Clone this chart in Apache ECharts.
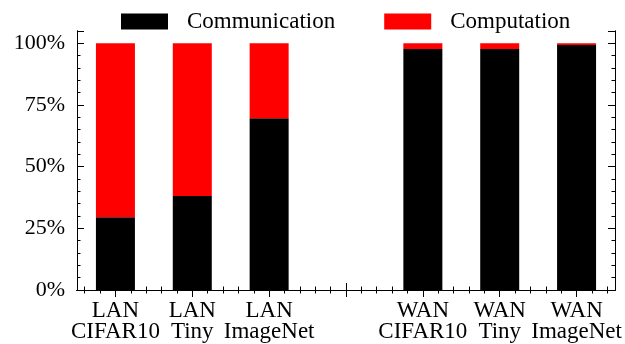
<!DOCTYPE html>
<html>
<head>
<meta charset="utf-8">
<script src="https://cdn.jsdelivr.net/npm/echarts@6/dist/echarts.min.js"></script>
<style>html,body{margin:0;padding:0;background:#fff}#c{width:625px;height:344px}</style>
</head>
<body>
<div id="c"></div>
<script>
const categories = ['LAN\nCIFAR10', 'LAN\nTiny', 'LAN\nImageNet', '', 'WAN\nCIFAR10', 'WAN\nTiny', 'WAN\nImageNet'];
const communication = [29.5, 38.1, 69.6, '-', 97.7, 97.7, 99.3];
const computation = [70.5, 61.9, 30.4, '-', 2.3, 2.3, 0.7];
const yTicks = [0, 25, 50, 75, 100];
const minorSlots = new Array(35).fill('');

const FONT = 'Liberation Serif';
const line = { show: true, lineStyle: { color: '#000', width: 1 } };

const chart = echarts.init(document.getElementById('c'), null, { renderer: 'canvas' });

function xAxisDef(pos, data, tickLen, showLabel) {
  return {
    type: 'category', position: pos, data: data, boundaryGap: true,
    axisLine: line,
    axisTick: { show: true, inside: true, alignWithLabel: true, interval: 0, length: tickLen, lineStyle: { color: '#000', width: 1 } },
    axisLabel: { show: showLabel, interval: 0, margin: 10, color: '#000', fontFamily: FONT, fontSize: 23, lineHeight: 21 },
    splitLine: { show: false }
  };
}
function yAxisDef(pos, interval, tickLen, showLabel) {
  return {
    type: 'value', position: pos, min: 0, max: 105, interval: interval,
    axisLine: line,
    axisTick: { show: true, inside: true, length: tickLen, lineStyle: { color: '#000', width: 1 } },
    axisLabel: { show: showLabel, margin: 12, color: '#000', fontFamily: FONT, fontSize: 22, showMaxLabel: true,
      formatter: v => (yTicks.indexOf(v) >= 0 ? v + '%' : '') },
    splitLine: { show: false }
  };
}

chart.setOption({
  animation: false,
  backgroundColor: '#fff',
  textStyle: { fontFamily: FONT },
  legend: {
    top: 5, left: 116,
    itemWidth: 47, itemHeight: 16, itemGap: 49,
    icon: 'rect',
    textStyle: { color: '#000', fontFamily: FONT, fontSize: 23, padding: [0, 0, 0, 14] },
    data: ['Communication', 'Computation']
  },
  grid: { left: 77, right: 10, top: 31, bottom: 54, containLabel: false },
  xAxis: [
    xAxisDef('bottom', categories, 7, true),
    xAxisDef('bottom', minorSlots, 3.5, false),
    xAxisDef('top', categories, 7, false),
    xAxisDef('top', minorSlots, 3.5, false)
  ],
  yAxis: [
    yAxisDef('left', 25, 7, true),
    yAxisDef('left', 5, 3.5, false),
    yAxisDef('right', 25, 7, false),
    yAxisDef('right', 5, 3.5, false)
  ],
  series: [
    { name: 'Communication', type: 'bar', stack: 's', xAxisIndex: 0, yAxisIndex: 0, barWidth: 39,
      itemStyle: { color: '#000000' }, data: communication },
    { name: 'Computation', type: 'bar', stack: 's', xAxisIndex: 0, yAxisIndex: 0, barWidth: 39,
      itemStyle: { color: '#ff0000' }, data: computation }
  ]
});
</script>
</body>
</html>
